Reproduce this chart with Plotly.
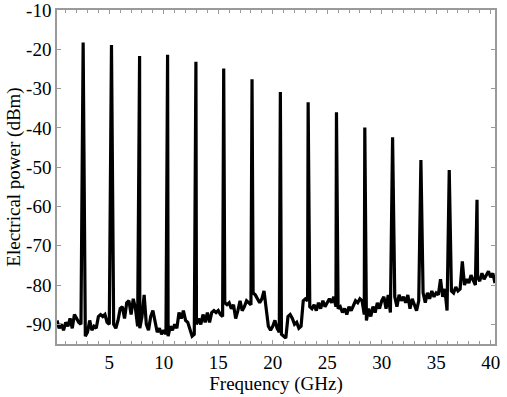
import plotly.graph_objects as go

# Noise floor readings, 0.2 GHz sweep spacing starting at 0.2 GHz (dBm)
noise_start = 0.2
noise_step = 0.2
noise_dbm = [
    -89, -91, -90, -91.5, -89.5,        # 0.2-1.0
    -90.5, -88.5, -91, -87.5, -88.5,    # 1.2-2.0
    -89.5, -90, -91, -93, -92,          # 2.2-3.0
    -89, -91.5, -90.5, -91, -88,        # 3.2-4.0
    -87.5, -88, -87.5, -89.5, -90,      # 4.2-5.0
    -90.5, -90, -91, -89, -86,          # 5.2-6.0
    -85.5, -88.5, -84.5, -84, -87.5,    # 6.2-7.0
    -83.5, -86, -90.5, -91, -88,        # 7.2-8.0
    -82.5, -90, -91.5, -88, -86.5,      # 8.2-9.0
    -89, -92, -91, -92.5, -91.5,        # 9.2-10.0
    -92.5, -93, -90.5, -91.5, -90,      # 10.2-11.0
    -91, -87, -88.5, -86.5, -89,        # 11.2-12.0
    -89.5, -91.5, -93, -92.5, -90,      # 12.2-13.0
    -88.5, -90, -87.5, -89.5, -87,      # 13.2-14.0
    -89.5, -87, -86.5, -87, -86.5,      # 14.2-15.0
    -87.5, -88, -84.5, -85, -84.5,      # 15.2-16.0
    -86, -85, -88.5, -86.5, -84,        # 16.2-17.0
    -86.5, -85.5, -84, -84.5, -85,      # 17.2-18.0
    -82, -82.5, -83.5, -84.5, -83.5,    # 18.2-19.0
    -81.5, -86, -90.5, -91.5, -90.5,    # 19.2-20.0
    -89, -91, -92, -92.5, -93,          # 20.2-21.0
    -93.5, -88, -87.5, -88.5, -90,      # 21.2-22.0
    -89.5, -91, -90.5, -84, -83.5,      # 22.2-23.0
    -84, -85.5, -86, -85, -86.5,        # 23.2-24.0
    -84.5, -86, -84, -85.5, -84.5,      # 24.2-25.0
    -83.5, -84.5, -83, -85.5, -86,      # 25.2-26.0
    -85.5, -87, -86, -87.5, -85.5,      # 26.2-27.0
    -86.5, -85, -84, -84.5, -83.5,      # 27.2-28.0
    -84, -87.5, -89, -86, -88,          # 28.2-29.0
    -85.5, -87, -84.5, -86, -84,        # 29.2-30.0
    -83, -86, -82.5, -87, -84,          # 30.2-31.0
    -83, -85.5, -82.5, -84, -83,        # 31.2-32.0
    -84.5, -82.5, -86, -83.5, -85,      # 32.2-33.0
    -86.5, -84, -83, -82, -84.5,        # 33.2-34.0
    -82, -83.5, -81.5, -83, -82,        # 34.2-35.0
    -82.5, -78.5, -83, -81, -86.5,      # 35.2-36.0
    -84, -81.5, -82, -80.5, -81.5,      # 36.2-37.0
    -81, -74, -80, -78.5, -79.5,        # 37.2-38.0
    -77.5, -79, -80, -78, -79,          # 38.2-39.0
    -77, -78.5, -77.5, -76.5, -78,      # 39.2-40.0
    -77, -79.5,                         # 40.2-40.4
]

# Comb lines (GHz, dBm)
peak_freq = [2.6, 5.2, 7.78, 10.35, 12.95, 15.5, 18.1, 20.7, 23.25,
             25.85, 28.45, 31.0, 33.6, 36.2, 38.75]
peak_dbm = [-18.3, -18.9, -21.7, -21.4, -23.2, -24.9, -27.6, -30.9, -33.5,
            -36.0, -39.9, -42.4, -48.2, -50.7, -58.3]

x_ticks = [5, 10, 15, 20, 25, 30, 35, 40]
y_ticks = [-10, -20, -30, -40, -50, -60, -70, -80, -90]

points = {}
for i, v in enumerate(noise_dbm):
    points[round(noise_start + i * noise_step, 3)] = v
for f, p in zip(peak_freq, peak_dbm):
    points[round(f, 3)] = p
xs = sorted(points)
ys = [points[k] for k in xs]

fig = go.Figure(go.Scatter(x=xs, y=ys, mode="lines",
                           line=dict(color="black", width=3.2),
                           hoverinfo="skip"))

serif = "Liberation Serif"
tick_font = dict(family=serif, size=19, color="black")
title_font = dict(family=serif, size=19, color="black")
frame = "#9a9a9a"

fig.update_layout(
    width=507, height=397,
    margin=dict(l=57, r=12, t=10, b=53),
    paper_bgcolor="white", plot_bgcolor="white",
    showlegend=False, font=tick_font,
)
fig.update_xaxes(
    range=[0.2, 40.4], tickvals=x_ticks, ticktext=[str(t) for t in x_ticks],
    ticks="inside", ticklen=4, tickcolor=frame, tickwidth=1,
    minor=dict(dtick=1, tick0=0, ticks="inside", ticklen=3, tickcolor=frame, showgrid=False),
    showline=True, linecolor=frame, linewidth=1.5, mirror="ticks",
    showgrid=False, zeroline=False, automargin=False,
    ticklabeloverflow="allow",
    title=dict(text="Frequency (GHz)", font=title_font, standoff=0),
    tickfont=tick_font,
)
fig.update_yaxes(
    range=[-95, -10], tickvals=y_ticks, ticktext=[str(t) for t in y_ticks],
    ticks="inside", ticklen=4, tickcolor=frame, tickwidth=1,
    showline=True, linecolor=frame, linewidth=1.5, mirror="ticks",
    showgrid=False, zeroline=False, automargin=False,
    ticklabeloverflow="allow",
    title=dict(text="Electrical power (dBm)", font=title_font, standoff=0),
    tickfont=tick_font,
)

fig.write_html(
    "out.html",
    config={"displayModeBar": False},
    post_script="document.body.style.margin='0';document.body.style.overflow='hidden';",
)
